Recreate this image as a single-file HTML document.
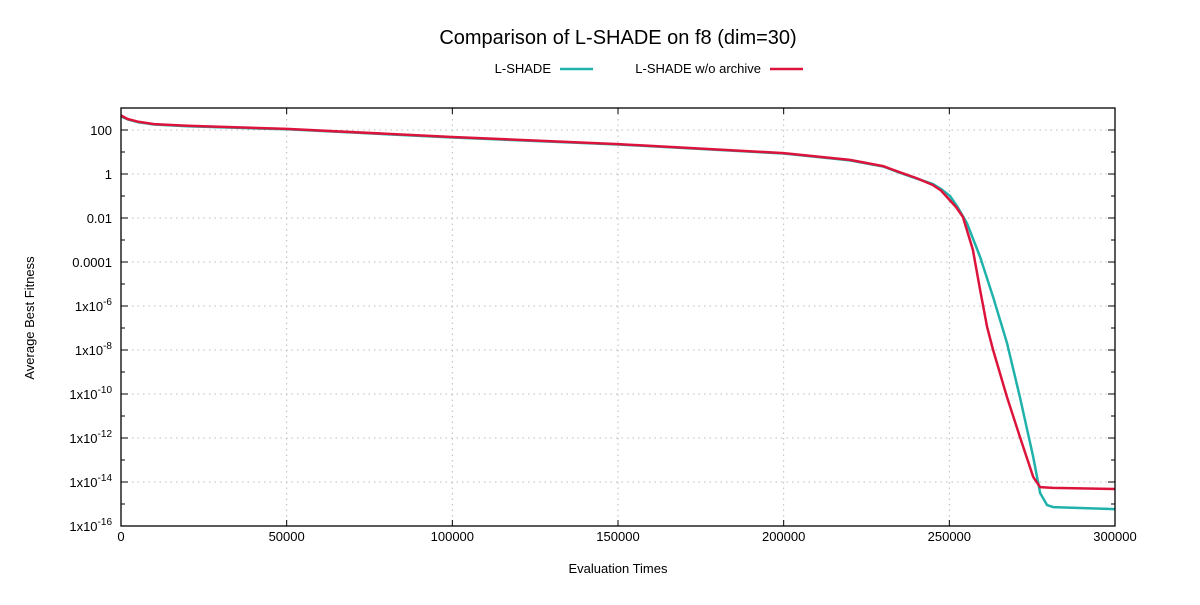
<!DOCTYPE html>
<html><head><meta charset="utf-8"><style>
body{margin:0;background:#fff;}
svg{font-family:"Liberation Sans","DejaVu Sans",sans-serif;}
</style></head><body>
<svg id="c" width="1200" height="600" xmlns="http://www.w3.org/2000/svg">
<text x="618" y="44" font-size="20" text-anchor="middle">Comparison of L-SHADE on f8 (dim=30)</text>
<g>
<text x="551" y="73" font-size="13" text-anchor="end">L-SHADE</text>
<line x1="560" y1="69" x2="593" y2="69" stroke="#20b2aa" stroke-width="2.5"/>
<text x="761" y="73" font-size="13" text-anchor="end">L-SHADE w/o archive</text>
<line x1="770" y1="69" x2="803" y2="69" stroke="#dc143c" stroke-width="2.5"/>
</g>
<text transform="translate(34,318) rotate(-90)" font-size="13" text-anchor="middle">Average Best Fitness</text>
<text x="618" y="573" font-size="13" text-anchor="middle">Evaluation Times</text>
<g id="grid"></g><g id="ticks"></g><g id="series"></g>
<rect x="121" y="108" width="994" height="418" fill="none" stroke="#000" stroke-width="1.3"/>
</svg>
<script>
const xTicks=[0,50000,100000,150000,200000,250000,300000];
const yTickExps=[2,0,-2,-4,-6,-8,-10,-12,-14,-16];
const yTickLabels=["100","1","0.01","0.0001","1x10^-6","1x10^-8","1x10^-10","1x10^-12","1x10^-14","1x10^-16"];
const evalsLshade=[0,2000,5000,10000,20000,50000,100000,150000,200000,220000,230000,235000,240000,245000,247500,250200,252500,255300,259300,263200,267400,271300,275300,277400,279500,281300,300000];
const logLshade=[2.62,2.48,2.36,2.25,2.17,2.03,1.66,1.34,0.93,0.62,0.34,0.06,-0.2,-0.45,-0.68,-1.0,-1.5,-2.23,-3.77,-5.59,-7.68,-10.14,-12.86,-14.5,-15.05,-15.14,-15.23];
const evalsNoArchive=[0,2000,5000,10000,20000,50000,100000,150000,200000,220000,230000,235000,240000,245000,247500,249300,252000,254100,257100,259300,261400,263200,267400,271300,275300,277400,281300,300000];
const logNoArchive=[2.66,2.5,2.38,2.27,2.19,2.05,1.68,1.36,0.95,0.64,0.36,0.08,-0.18,-0.5,-0.75,-1.05,-1.5,-1.95,-3.45,-5.27,-6.95,-8.0,-10.14,-11.95,-13.77,-14.23,-14.27,-14.32];
const NS="http://www.w3.org/2000/svg";
const X=v=>121+v/300000*994;
const Y=l=>130-(l-2)*22;
function mk(t,a,p){const e=document.createElementNS(NS,t);for(const k in a)e.setAttribute(k,a[k]);p.appendChild(e);return e;}
const grid=document.getElementById('grid'),ticks=document.getElementById('ticks'),ser=document.getElementById('series');
xTicks.forEach((v,i)=>{
 const x=X(v);
 if(i>0&&i<xTicks.length-1){const g=mk('line',{x1:x,y1:108,x2:x,y2:526,stroke:'#bbb','stroke-dasharray':'1.5,4'},grid);
 
 }
 mk('line',{x1:x,y1:526,x2:x,y2:520,stroke:'#000'},ticks);
 mk('line',{x1:x,y1:108,x2:x,y2:114,stroke:'#000'},ticks);
 const t=mk('text',{x:x,y:541,'font-size':13,'text-anchor':'middle'},ticks);
 t.textContent=String(v);
 
 
});
yTickExps.forEach((e,i)=>{
 const y=Y(e);
 if(i<yTickExps.length-1){const g=mk('line',{x1:121,y1:y,x2:1115,y2:y,stroke:'#bbb','stroke-dasharray':'1.5,4'},grid);
 
 }
 mk('line',{x1:121,y1:y,x2:128,y2:y,stroke:'#000'},ticks);
 mk('line',{x1:1115,y1:y,x2:1108,y2:y,stroke:'#000'},ticks);
 const ym=Y(e+1);
 mk('line',{x1:121,y1:ym,x2:125,y2:ym,stroke:'#000'},ticks);
 mk('line',{x1:1115,y1:ym,x2:1111,y2:ym,stroke:'#000'},ticks);
 const lab=yTickLabels[i];
 const t=mk('text',{x:112,y:y+5,'font-size':13,'text-anchor':'end'},ticks);
 
 
 if(lab.indexOf('^')>=0){const [b,s]=lab.split('^');
  const s1=mk('tspan',{},t);s1.textContent=b;
  const s2=mk('tspan',{dy:-6,'font-size':10},t);s2.textContent=s;}
 else t.textContent=lab;
});
function line(ev,lg,col,name){
 const d=ev.map((v,i)=>(i?'L':'M')+X(v).toFixed(1)+','+Y(lg[i]).toFixed(1)).join(' ');
 const p=mk('path',{d:d,fill:'none',stroke:col,'stroke-width':2.5,'stroke-linejoin':'round'},ser);
 
 
}
line(evalsLshade,logLshade,'#20b2aa','series-lshade');
line(evalsNoArchive,logNoArchive,'#dc143c','series-lshade-no-archive');
</script>
</body></html>
